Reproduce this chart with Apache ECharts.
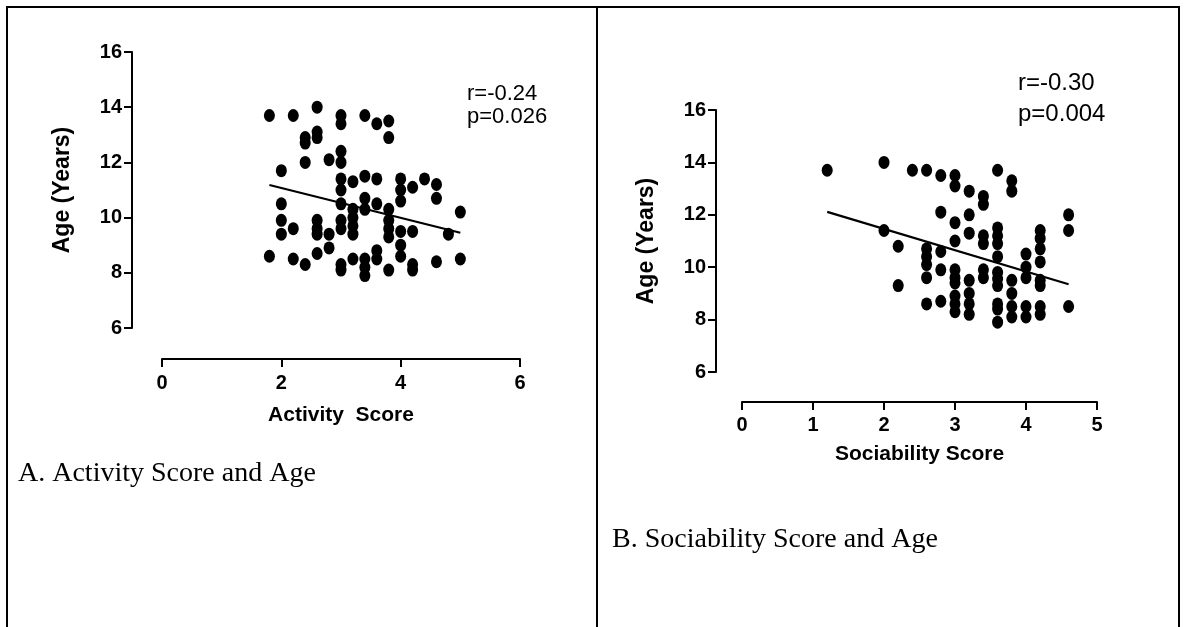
<!DOCTYPE html>
<html>
<head>
<meta charset="utf-8">
<script src="https://cdn.jsdelivr.net/npm/echarts@6/dist/echarts.min.js"></script>
<style>
  html, body { margin: 0; padding: 0; background: #fff; }
  #chart { width: 1186px; height: 627px; }
</style>
</head>
<body>
<div id="chart"></div>
<script>
// Panel A: activity score vs age
const activityScore = [
  1.8, 1.8,
  2.0, 2.0, 2.0, 2.0,
  2.2, 2.2, 2.2,
  2.4, 2.4, 2.4, 2.4,
  2.6, 2.6, 2.6, 2.6, 2.6, 2.6, 2.6,
  2.8, 2.8, 2.8,
  3.0, 3.0, 3.0, 3.0, 3.0, 3.0, 3.0, 3.0, 3.0, 3.0, 3.0,
  3.2, 3.2, 3.2, 3.2, 3.2, 3.2,
  3.4, 3.4, 3.4, 3.4, 3.4, 3.4, 3.4,
  3.6, 3.6, 3.6, 3.6, 3.6,
  3.8, 3.8, 3.8, 3.8, 3.8, 3.8, 3.8,
  4.0, 4.0, 4.0, 4.0, 4.0, 4.0,
  4.2, 4.2, 4.2, 4.2,
  4.4,
  4.6, 4.6, 4.6,
  4.8,
  5.0, 5.0
];
const activityAge = [
  13.7, 8.6,
  11.7, 10.5, 9.9, 9.4,
  13.7, 9.6, 8.5,
  12.9, 12.7, 12.0, 8.3,
  14.0, 13.1, 12.9, 9.9, 9.6, 9.4, 8.7,
  12.1, 9.4, 8.9,
  13.7, 13.4, 12.4, 12.0, 11.4, 11.0, 10.5, 9.9, 9.6, 8.3, 8.1,
  11.3, 10.3, 10.0, 9.7, 9.4, 8.5,
  13.7, 11.5, 10.7, 10.3, 8.5, 8.2, 7.9,
  13.4, 11.4, 10.5, 8.8, 8.5,
  13.5, 12.9, 10.3, 9.9, 9.6, 9.3, 8.1,
  11.4, 11.0, 10.6, 9.5, 9.0, 8.6,
  11.1, 9.5, 8.3, 8.1,
  11.4,
  11.2, 10.7, 8.4,
  9.4,
  10.2, 8.5
];
const activityFit = [[1.8, 11.18], [5.0, 9.45]];
const activityStats = ['r=-0.24', 'p=0.026'];

// Panel B: sociability score vs age
const sociabilityScore = [
  1.2,
  2.0, 2.0,
  2.2, 2.2,
  2.4,
  2.6, 2.6, 2.6, 2.6, 2.6, 2.6,
  2.8, 2.8, 2.8, 2.8, 2.8,
  3.0, 3.0, 3.0, 3.0, 3.0, 3.0, 3.0, 3.0, 3.0, 3.0,
  3.2, 3.2, 3.2, 3.2, 3.2, 3.2, 3.2,
  3.4, 3.4, 3.4, 3.4, 3.4, 3.4,
  3.6, 3.6, 3.6, 3.6, 3.6, 3.6, 3.6, 3.6, 3.6, 3.6, 3.6,
  3.8, 3.8, 3.8, 3.8, 3.8, 3.8,
  4.0, 4.0, 4.0, 4.0, 4.0,
  4.2, 4.2, 4.2, 4.2, 4.2, 4.2, 4.2, 4.2,
  4.6, 4.6, 4.6
];
const sociabilityAge = [
  13.7,
  14.0, 11.4,
  10.8, 9.3,
  13.7,
  13.7, 10.7, 10.4, 10.1, 9.6, 8.6,
  13.5, 12.1, 10.6, 9.9, 8.7,
  13.5, 13.1, 11.7, 11.0, 9.9, 9.6, 9.4, 8.9, 8.6, 8.3,
  12.9, 12.0, 11.3, 9.5, 9.0, 8.6, 8.2,
  12.7, 12.4, 11.2, 10.9, 9.9, 9.6,
  13.7, 11.5, 11.2, 10.9, 10.4, 9.8, 9.55, 9.3, 8.6, 8.4, 7.9,
  13.3, 12.9, 9.5, 9.0, 8.5, 8.1,
  10.5, 10.0, 9.6, 8.5, 8.1,
  11.4, 11.1, 10.7, 10.2, 9.5, 9.3, 8.5, 8.2,
  12.0, 11.4, 8.5
];
const sociabilityFit = [[1.2, 12.11], [4.6, 9.35]];
const sociabilityStats = ['r=-0.30', 'p=0.004'];

const ageRange = [6, 16, 2];
const activityRange = [0, 6, 2];
const sociabilityRange = [0, 5, 1];
const xTitles = ['Activity  Score', 'Sociability Score'];
const yTitle = 'Age (Years)';
const captions = ['A. Activity Score and Age', 'B. Sociability Score and Age'];

const SANS = "'Liberation Sans', Arial, sans-serif";
const SERIF = "'Liberation Serif', 'Times New Roman', serif";

const pairs = (xs, ys) => xs.map((x, i) => [x, ys[i]]);

const axisLineStyle = { show: true, onZero: false, lineStyle: { color: '#000', width: 2 } };
const tickStyle = { show: true, inside: false, length: 8, lineStyle: { color: '#000', width: 2 } };

function xAxis(gridIndex, range, title, offset, labelMargin, nameGap) {
  return {
    type: 'value', gridIndex,
    min: range[0], max: range[1], interval: range[2],
    offset,
    axisLine: axisLineStyle,
    axisTick: tickStyle,
    splitLine: { show: false },
    axisLabel: { color: '#000', fontFamily: SANS, fontWeight: 'bold', fontSize: 20, margin: labelMargin },
    name: title, nameLocation: 'middle', nameGap,
    nameTextStyle: { color: '#000', fontFamily: SANS, fontWeight: 'bold', fontSize: 21 }
  };
}

function yAxis(gridIndex, offset, nameGap) {
  return {
    type: 'value', gridIndex,
    min: ageRange[0], max: ageRange[1], interval: ageRange[2],
    offset,
    axisLine: axisLineStyle,
    axisTick: tickStyle,
    splitLine: { show: false },
    axisLabel: { color: '#000', fontFamily: SANS, fontWeight: 'bold', fontSize: 20, margin: 10 },
    name: yTitle, nameLocation: 'middle', nameGap,
    nameTextStyle: { color: '#000', fontFamily: SANS, fontWeight: 'bold', fontSize: 23 }
  };
}

function scatter(idx, data) {
  return {
    type: 'scatter', xAxisIndex: idx, yAxisIndex: idx,
    data, symbol: 'circle', symbolSize: [11, 13],
    itemStyle: { color: '#000', opacity: 1 }, silent: true
  };
}

function fit(idx, data) {
  return {
    type: 'line', xAxisIndex: idx, yAxisIndex: idx,
    data, symbol: 'none', silent: true,
    lineStyle: { color: '#000', width: 2.2 }, z: 3
  };
}

function statText(lines, x, y, gap, size) {
  return lines.map((t, i) => ({
    type: 'text', x, y: y + i * gap, silent: true,
    style: { text: t, fill: '#000', font: `${size}px ${SANS}`, verticalAlign: 'middle', align: 'left' }
  }));
}

function border(x1, y1, x2, y2) {
  return { type: 'line', silent: true, shape: { x1, y1, x2, y2 }, style: { stroke: '#000', lineWidth: 2 } };
}

const chart = echarts.init(document.getElementById('chart'), null, { renderer: 'canvas' });
chart.setOption({
  animation: false,
  backgroundColor: '#fff',
  grid: [
    { left: 162, top: 52, width: 358, height: 276 },
    { left: 742, top: 110, width: 355, height: 262 }
  ],
  xAxis: [
    xAxis(0, activityRange, xTitles[0], 31, 14, 46),
    xAxis(1, sociabilityRange, xTitles[1], 30, 13, 42)
  ],
  yAxis: [
    yAxis(0, 30, 58),
    yAxis(1, 26, 58)
  ],
  series: [
    scatter(0, pairs(activityScore, activityAge)),
    fit(0, activityFit),
    scatter(1, pairs(sociabilityScore, sociabilityAge)),
    fit(1, sociabilityFit)
  ],
  graphic: [
    border(6, 7, 1180, 7),
    border(7, 7, 7, 627),
    border(597, 7, 597, 627),
    border(1179, 7, 1179, 627),
    ...statText(activityStats, 467, 93.5, 23, 22),
    ...statText(sociabilityStats, 1018, 83.5, 31, 24),
    {
      type: 'text', x: 18, y: 474, silent: true,
      style: { text: captions[0], fill: '#000', font: `28px ${SERIF}`, verticalAlign: 'middle', align: 'left' }
    },
    {
      type: 'text', x: 612, y: 540, silent: true,
      style: { text: captions[1], fill: '#000', font: `28px ${SERIF}`, verticalAlign: 'middle', align: 'left' }
    }
  ]
});
</script>
</body>
</html>
